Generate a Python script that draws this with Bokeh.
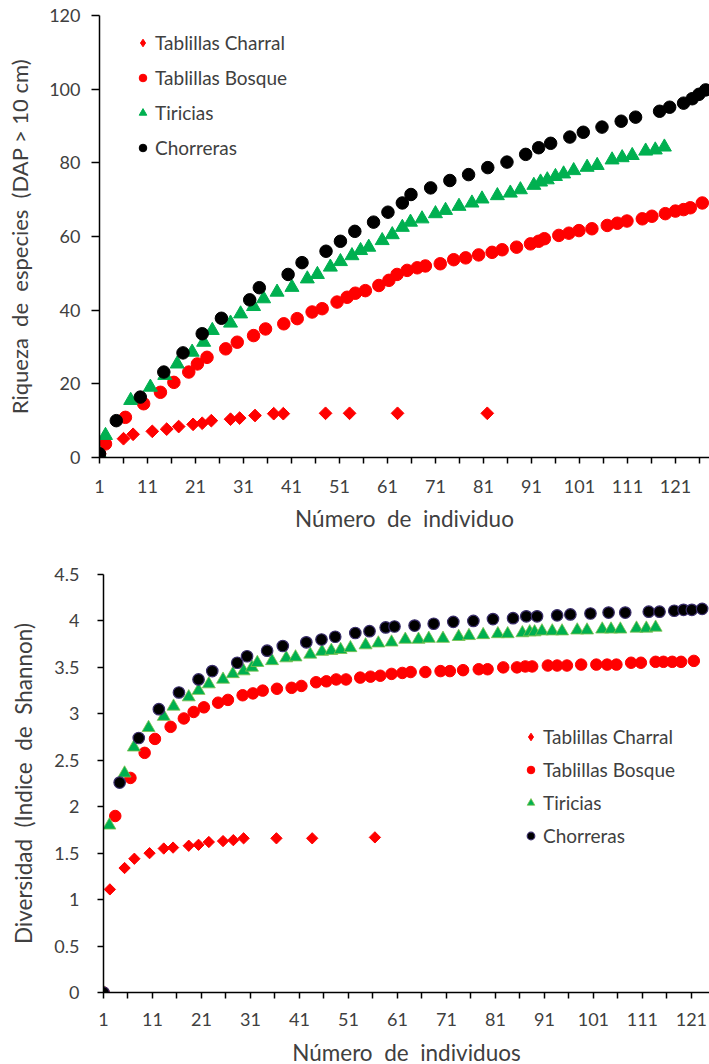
import numpy as np
from bokeh.plotting import figure
from bokeh.models import Range1d, FixedTicker, Legend, LegendItem, CustomJSTickFormatter
from bokeh.embed import file_html
from bokeh.resources import INLINE

# ---------------- data: species richness (top) ----------------
top_charral_x = [1, 6, 8, 12, 15, 17.5, 20.5, 22.4, 24.3, 28.3, 30.2, 33.4, 37.3, 39.3, 48.1, 53.1, 63.1, 81.8]
top_charral_y = [1, 5.1, 6.3, 7.1, 7.7, 8.4, 9.0, 9.3, 10.0, 10.4, 10.7, 11.4, 11.9, 11.9, 12, 12, 12, 12]

top_bosque_x = [1, 2.25, 6.4, 10.2, 13.7, 16.5, 19.6, 21.4, 23.4, 27.3, 29.7, 33.1, 35.6, 39.4, 42.2, 45.3,
                47.4, 50.5, 52.6, 54.3, 56.4, 59.2, 61.3, 63.0, 65.1, 67.2, 68.9, 72.0, 74.8, 77.3, 80.0,
                82.8, 84.9, 87.9, 90.8, 92.5, 93.7, 96.7, 98.8, 100.9, 103.6, 106.8, 108.9, 110.9, 114.1,
                116.1, 118.9, 121.0, 122.7, 124.1, 126.6]
top_bosque_y = [1, 3.7, 10.9, 14.6, 17.7, 20.4, 23.2, 25.4, 27.2, 29.5, 31.3, 33.1, 34.9, 36.3, 37.7, 39.5,
                40.4, 42.2, 43.5, 44.6, 45.3, 46.7, 48.1, 49.7, 50.8, 51.5, 52.0, 52.6, 53.7, 54.2, 55.0,
                55.7, 56.4, 57.1, 58.0, 58.7, 59.4, 60.3, 60.9, 61.6, 62.1, 63.0, 63.6, 64.2, 64.8,
                65.5, 66.2, 66.9, 67.3, 67.8, 69.1]

top_tiricias_x = [1, 2.25, 7.5, 11.6, 14.6, 17.2, 20.3, 22.7, 24.5, 28.3, 30.4, 33.1, 35.2, 38.0, 41.1, 44.3,
                  46.4, 49.1, 51.2, 53.6, 55.4, 57.1, 59.9, 62.0, 64.1, 65.8, 68.2, 71.0, 73.1, 75.9, 78.6,
                  80.7, 83.9, 86.6, 88.7, 91.5, 92.9, 94.3, 96.0, 97.7, 99.8, 102.6, 104.7, 107.8, 109.9,
                  112.0, 114.8, 116.8, 118.7]
top_tiricias_y = [1, 6.0, 15.5, 19.1, 22.3, 25.4, 28.6, 31.3, 34.5, 36.5, 39.0, 41.0, 43.1, 44.9, 46.2, 48.5,
                  49.7, 51.7, 53.2, 54.8, 56.2, 57.1, 58.9, 60.5, 62.5, 63.9, 64.8, 66.2, 67.1, 68.2, 69.1,
                  70.2, 71.1, 71.8, 72.7, 73.9, 74.8, 75.4, 76.3, 77.0, 77.9, 78.8, 79.3, 80.8, 81.4,
                  82.0, 83.2, 83.5, 84.3]

top_chorreras_x = [1, 4.5, 9.5, 14.4, 18.4, 22.4, 26.4, 32.3, 34.3, 40.3, 43.2, 48.2, 51.2, 54.2, 58.1, 61.1,
                   64.1, 65.9, 70.0, 74.0, 77.9, 81.9, 85.9, 89.8, 92.5, 95.0, 99.0, 101.8, 105.7, 109.7,
                   112.7, 117.7, 119.8, 122.7, 124.5, 125.9, 127.3]
top_chorreras_y = [1, 10.0, 16.4, 23.2, 28.4, 33.6, 37.8, 42.8, 46.1, 49.7, 52.9, 56.0, 58.7, 61.4, 63.9, 66.6,
                   69.1, 71.4, 73.2, 75.2, 76.8, 78.7, 80.2, 82.3, 84.1, 85.3, 87.0, 88.3, 89.7, 91.3,
                   92.4, 94.0, 95.1, 96.2, 97.4, 98.6, 99.8]

# ---------------- data: Shannon diversity (bottom) ----------------
bot_charral_x = [1, 2.3, 5.3, 7.3, 10.4, 13.3, 15.2, 18.4, 20.4, 22.5, 25.4, 27.5, 29.6, 36.3, 43.6, 56.4]
bot_charral_y = [0, 1.11, 1.34, 1.44, 1.50, 1.55, 1.56, 1.58, 1.59, 1.62, 1.63, 1.64, 1.66, 1.66, 1.66, 1.67]

bot_bosque_x = [1, 3.4, 6.5, 9.4, 11.5, 14.7, 17.4, 19.4, 21.5, 24.4, 26.4, 29.4, 31.5, 33.5, 36.4, 39.4,
                41.4, 44.4, 46.5, 48.5, 50.5, 53.4, 55.5, 57.5, 59.8, 62.0, 63.7, 66.7, 69.8, 71.7, 74.4,
                77.6, 79.4, 82.6, 85.4, 87.1, 88.5, 91.7, 93.6, 95.6, 98.5, 101.6, 103.8, 105.7, 108.7,
                110.7, 113.7, 115.3, 117.1, 118.9, 121.5]
bot_bosque_y = [0, 1.90, 2.31, 2.58, 2.73, 2.86, 2.95, 3.02, 3.07, 3.12, 3.15, 3.20, 3.22, 3.25, 3.27, 3.28,
                3.30, 3.34, 3.35, 3.37, 3.37, 3.39, 3.40, 3.41, 3.43, 3.44, 3.45, 3.45, 3.46, 3.46, 3.47,
                3.48, 3.48, 3.50, 3.50, 3.51, 3.51, 3.52, 3.52, 3.52, 3.53, 3.53, 3.53, 3.53, 3.55,
                3.55, 3.56, 3.56, 3.56, 3.56, 3.57]

bot_tiricias_x = [1, 2.2, 5.3, 7.2, 10.2, 13.3, 15.3, 18.4, 20.4, 22.5, 25.4, 27.4, 29.6, 31.3, 32.4, 35.4,
                  38.3, 40.2, 43.2, 45.6, 47.5, 49.4, 51.4, 54.5, 57.1, 59.8, 62.6, 65.3, 67.4, 70.3, 73.5,
                  75.6, 78.5, 81.5, 83.5, 86.5, 88.0, 89.0, 90.5, 92.6, 94.6, 97.7, 99.7, 102.8, 104.6,
                  106.5, 109.8, 111.8, 113.7]
bot_tiricias_y = [0, 1.80, 2.36, 2.64, 2.85, 2.97, 3.08, 3.18, 3.25, 3.32, 3.37, 3.43, 3.46, 3.50, 3.55, 3.57,
                  3.60, 3.61, 3.64, 3.67, 3.68, 3.69, 3.71, 3.74, 3.76, 3.77, 3.80, 3.80, 3.81, 3.81, 3.83,
                  3.84, 3.85, 3.86, 3.86, 3.87, 3.88, 3.88, 3.89, 3.89, 3.89, 3.90, 3.90, 3.91, 3.91,
                  3.91, 3.92, 3.92, 3.93]

bot_chorreras_x = [1, 4.3, 8.2, 12.3, 16.4, 20.4, 23.2, 28.3, 30.3, 34.4, 37.6, 42.4, 45.5, 48.3, 52.4, 55.3,
                   58.6, 60.4, 64.5, 68.4, 72.4, 76.5, 80.5, 84.6, 87.3, 89.5, 93.6, 96.3, 100.4, 104.1,
                   107.5, 112.3, 114.5, 117.5, 119.4, 121.1, 123.2]
bot_chorreras_y = [0, 2.26, 2.74, 3.05, 3.23, 3.37, 3.46, 3.55, 3.62, 3.68, 3.73, 3.77, 3.80, 3.83, 3.87, 3.89,
                   3.93, 3.94, 3.95, 3.97, 3.99, 4.00, 4.02, 4.03, 4.05, 4.05, 4.06, 4.07, 4.08, 4.09,
                   4.09, 4.10, 4.10, 4.11, 4.12, 4.12, 4.13]

series_names = ["Tablillas Charral", "Tablillas Bosque", "Tiricias", "Chorreras"]
x_tick_labels = [1, 11, 21, 31, 41, 51, 61, 71, 81, 91, 101, 111, 121]
x_minor_ticks = [6, 16, 26, 36, 46, 56, 66, 76, 86, 96, 106, 116, 126]
top_y_ticks = [0, 20, 40, 60, 80, 100, 120]
bot_y_ticks = [0, 0.5, 1, 1.5, 2, 2.5, 3, 3.5, 4, 4.5]

NB = "\u00a0"
top_x_title = "Número " + NB + "de " + NB + "individuo"
top_y_title = "Riqueza " + NB + "de " + NB + "especies " + NB + "(DAP > 10 cm)"
bot_x_title = "Número " + NB + "de " + NB + "individuos"
bot_y_title = "Diversidad " + NB + "(Indice " + NB + "de " + NB + "Shannon)"

FONT = "Lato"
TXT = "#404040"
RED = "#FF0000"
GREEN = "#00B050"
BLACK = "#000000"


def style_axes(p, yticks, ytick_out, ylab_standoff, ytitle_standoff, ytitle_size,
               xlab_standoff, xtitle_standoff, xtitle, ytitle):
    p.grid.visible = False
    p.outline_line_color = None
    p.background_fill_color = "white"
    p.border_fill_color = "white"

    xa = p.xaxis[0]
    xa.ticker = FixedTicker(ticks=x_tick_labels, minor_ticks=x_minor_ticks)
    xa.axis_line_color = BLACK
    xa.axis_line_width = 1.5
    xa.major_tick_line_color = BLACK
    xa.minor_tick_line_color = BLACK
    xa.major_tick_line_width = 1.5
    xa.minor_tick_line_width = 1.5
    xa.major_tick_in = 0
    xa.major_tick_out = 6
    xa.minor_tick_in = 0
    xa.minor_tick_out = 6
    xa.major_label_text_font = FONT
    xa.major_label_text_font_size = "18px"
    xa.major_label_text_color = TXT
    xa.major_label_standoff = xlab_standoff
    xa.axis_label = xtitle
    xa.axis_label_text_font = FONT
    xa.axis_label_text_font_size = "22.5px"
    xa.axis_label_text_font_style = "normal"
    xa.axis_label_text_color = TXT
    xa.axis_label_standoff = xtitle_standoff

    ya = p.yaxis[0]
    ya.ticker = FixedTicker(ticks=yticks, minor_ticks=[])
    ya.axis_line_color = BLACK
    ya.axis_line_width = 1.5
    ya.major_tick_line_color = BLACK
    ya.major_tick_line_width = 1.5
    ya.minor_tick_line_color = None
    ya.major_tick_in = 0
    ya.major_tick_out = ytick_out
    ya.major_label_text_font = FONT
    ya.major_label_text_font_size = "18px"
    ya.major_label_text_color = TXT
    ya.major_label_standoff = ylab_standoff
    ya.axis_label = ytitle
    ya.axis_label_text_font = FONT
    ya.axis_label_text_font_size = ytitle_size
    ya.axis_label_text_font_style = "normal"
    ya.axis_label_text_color = TXT
    ya.axis_label_standoff = ytitle_standoff


def make_legend(items, loc, spacing):
    return Legend(items=items, location=loc, orientation="vertical",
                  padding=0, margin=0, spacing=spacing,
                  glyph_height=23, glyph_width=19, label_height=23, label_standoff=3,
                  label_text_font=FONT, label_text_font_size="19px", label_text_color=TXT,
                  border_line_color=None, background_fill_alpha=0)


# ---------------- top figure ----------------
p1 = figure(width=709, height=548, frame_width=610, frame_height=442,
            min_border_left=99, min_border_right=0, min_border_top=15, min_border_bottom=91,
            x_range=Range1d(1, 128.1), y_range=Range1d(0, 120),
            output_backend="svg", toolbar_location=None)
style_axes(p1, top_y_ticks, 8, 11, 13, "22px", 16, 9, top_x_title, top_y_title)

# diamond-shaped swatch for the legend, drawn underneath the (rotated-square) data markers
t1_key = p1.scatter(top_charral_x, top_charral_y, marker="diamond", size=10,
                    fill_color=RED, line_color=RED)
t1 = p1.scatter(top_charral_x, top_charral_y, marker="square", angle=np.pi / 4, size=9,
                fill_color=RED, line_color=RED)
t2 = p1.scatter(top_bosque_x, top_bosque_y, marker="circle", size=12.5,
                fill_color=RED, line_color=RED)
t3 = p1.scatter(top_tiricias_x, top_tiricias_y, marker="triangle", size=14,
                fill_color=GREEN, line_color=GREEN)
t4 = p1.scatter(top_chorreras_x, top_chorreras_y, marker="circle", size=12.5,
                fill_color=BLACK, line_color=BLACK)
leg1 = make_legend([LegendItem(label=n, renderers=[r]) for n, r in zip(series_names, [t1_key, t2, t3, t4])],
                   (34, 298), 12)
p1.add_layout(leg1)

# ---------------- bottom figure ----------------
p2 = figure(width=709, height=515, frame_width=606, frame_height=418,
            min_border_left=103, min_border_right=0, min_border_top=26, min_border_bottom=71,
            x_range=Range1d(1, 124.7), y_range=Range1d(0, 4.5),
            output_backend="svg", toolbar_location=None)
style_axes(p2, bot_y_ticks, 6, 18, 14, "22.5px", 14, 10, bot_x_title, bot_y_title)
p2.yaxis[0].formatter = CustomJSTickFormatter(code="return String(Math.round(tick * 10) / 10);")

b1_key = p2.scatter(bot_charral_x, bot_charral_y, marker="diamond", size=9,
                    fill_color=RED, line_color=RED)
b1 = p2.scatter(bot_charral_x, bot_charral_y, marker="square", angle=np.pi / 4, size=8,
                fill_color=RED, line_color=RED)
b2 = p2.scatter(bot_bosque_x, bot_bosque_y, marker="circle", size=11.5,
                fill_color=RED, line_color=RED)
b3 = p2.scatter(bot_tiricias_x, bot_tiricias_y, marker="triangle", size=13,
                fill_color=GREEN, line_color="#7CC24E", line_width=0.8)
b4 = p2.scatter(bot_chorreras_x, bot_chorreras_y, marker="circle", size=11.5,
                fill_color=BLACK, line_color="#3B2F6B", line_width=1.2)
leg2 = make_legend([LegendItem(label=n, renderers=[r]) for n, r in zip(series_names, [b1_key, b2, b3, b4])],
                   (418, 145), 10)
p2.add_layout(leg2)

open("out.html", "w").write(file_html([p1, p2], INLINE))
